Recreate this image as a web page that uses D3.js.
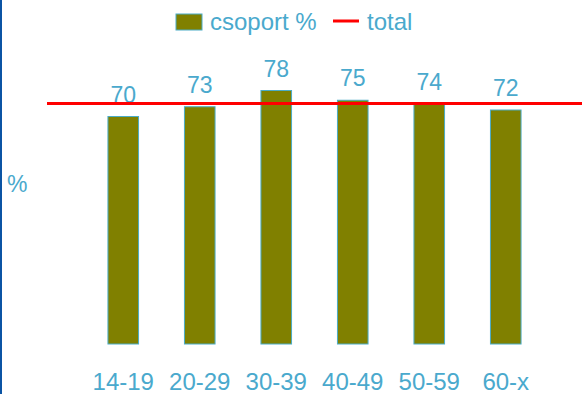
<!DOCTYPE html>
<html>
<head>
<meta charset="utf-8">
<script src="https://cdn.jsdelivr.net/npm/d3@7"></script>
<style>
  html, body { margin: 0; padding: 0; background: #fff; }
  svg { display: block; font-family: "Liberation Sans", Arial, sans-serif; }
</style>
</head>
<body>
<svg id="chart" width="582" height="394"></svg>
<script>
// Age groups and the share (%) of each group
const categories = ["14-19", "20-29", "30-39", "40-49", "50-59", "60-x"];
const groupValues = [70, 73, 78, 75, 74, 72];
const totalValue = 74;
const seriesNames = ["csoport %", "total"];
const axisTitle = "%";

const W = 582, H = 394;
const textColor = "#4aa9cd";
const barFill = "#808000";
const barStroke = "#4bacc6";
const lineColor = "#ff0000";

const svg = d3.select("#chart");

// left frame edge
svg.append("rect").attr("x", 0).attr("y", 0).attr("width", 2).attr("height", H).attr("fill", "#0b54a4");

const x = d3.scaleBand()
  .domain(categories)
  .range([85, 544])
  .paddingInner(0.6)
  .paddingOuter(0.3);

const y = d3.scaleLinear().domain([0, 100]).range([344, 19]);

// bars
svg.append("g").selectAll("rect")
  .data(groupValues)
  .join("rect")
  .attr("x", (d, i) => x(categories[i]))
  .attr("y", d => y(d))
  .attr("width", x.bandwidth())
  .attr("height", d => y(0) - y(d))
  .attr("fill", barFill)
  .attr("stroke", barStroke)
  .attr("stroke-width", 1);

// value labels
svg.append("g").selectAll("text")
  .data(groupValues)
  .join("text")
  .attr("x", (d, i) => x(categories[i]) + x.bandwidth() / 2)
  .attr("y", d => y(d) - 14)
  .attr("text-anchor", "middle")
  .attr("font-size", 23)
  .attr("fill", textColor)
  .text(d => d);

// total reference line
svg.append("line")
  .attr("x1", 47).attr("x2", W)
  .attr("y1", y(totalValue)).attr("y2", y(totalValue))
  .attr("stroke", lineColor)
  .attr("stroke-width", 3);

// category axis labels
const xAxis = d3.axisBottom(x).tickSize(0).tickPadding(0);
const gx = svg.append("g").attr("transform", "translate(0,372)").call(xAxis);
gx.select(".domain").remove();
gx.selectAll("text")
  .attr("font-size", 24)
  .attr("font-family", "Liberation Sans, Arial, sans-serif")
  .attr("fill", textColor)
  .attr("dy", "0.77em");

// axis title
svg.append("text")
  .attr("x", 7).attr("y", 192)
  .attr("font-size", 23)
  .attr("fill", textColor)
  .text(axisTitle);

// legend
const lg = svg.append("g");
lg.append("rect")
  .attr("x", 176).attr("y", 14).attr("width", 26).attr("height", 16)
  .attr("fill", barFill).attr("stroke", barStroke).attr("stroke-width", 1);
lg.append("text")
  .attr("x", 210).attr("y", 30)
  .attr("font-size", 24)
  .attr("fill", textColor)
  .text(seriesNames[0]);
lg.append("line")
  .attr("x1", 333).attr("x2", 359).attr("y1", 21).attr("y2", 21)
  .attr("stroke", lineColor).attr("stroke-width", 3);
lg.append("text")
  .attr("x", 367).attr("y", 30)
  .attr("font-size", 24)
  .attr("fill", textColor)
  .text(seriesNames[1]);
</script>
</body>
</html>
